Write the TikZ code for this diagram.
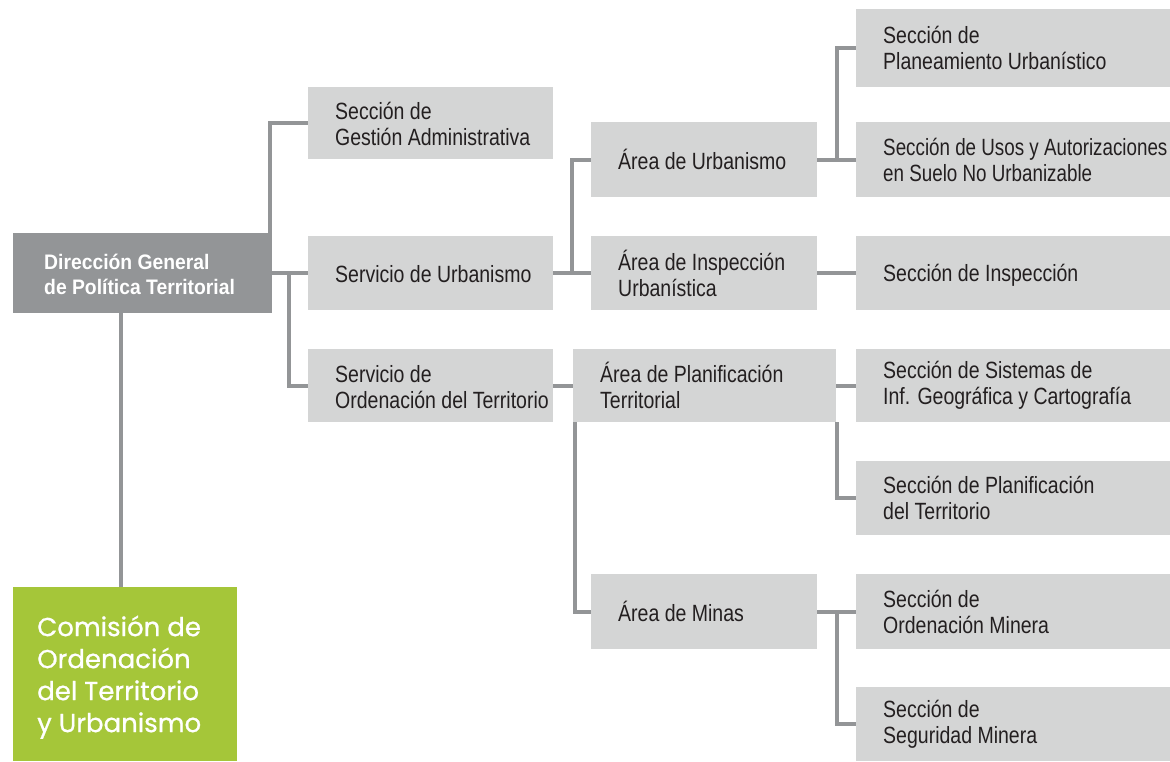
\documentclass[tikz,border=0pt]{standalone}
\usepackage{fontspec}
\setmainfont{Liberation Sans}
\newfontfamily\regf{Liberation Sans}[FakeStretch=0.83]
\newfontfamily\narrf{Liberation Sans}[FakeStretch=0.80]
\newfontfamily\boldf{Liberation Sans}[FakeStretch=0.92]
\newfontfamily\popf{Poppins}[FakeBold=0.8]
\usetikzlibrary{calc}
\definecolor{boxgray}{HTML}{D4D5D5}
\definecolor{darkbox}{HTML}{939597}
\definecolor{linegray}{HTML}{939597}
\definecolor{greenbox}{HTML}{A5C639}
\definecolor{txt}{HTML}{231F20}
\tikzset{
  box/.style={fill=boxgray, inner sep=0pt, anchor=north west, draw=none},
  lbl/.style={anchor=west, align=left, inner sep=0pt, text=txt,
    font=\regf\fontsize{23.5}{26}\selectfont},
  conn/.style={draw=linegray, line width=4pt},
}
\begin{document}
\begin{tikzpicture}[x=1pt,y=-1pt]
\useasboundingbox (0,0) rectangle (1170,761);
% main boxes
\node[box, fill=darkbox, minimum width=259pt, minimum height=80pt] (dg) at (13,233) {};
\node[anchor=west, align=left, inner sep=0pt, text=white, font=\boldf\bfseries\fontsize{21}{25}\selectfont] (dgt) at ([xshift=31pt,yshift=-1pt]dg.west) {Dirección General\\de Política Territorial};
\node[box, fill=greenbox, minimum width=224pt, minimum height=174pt] (co) at (13,587) {};
\node[anchor=west, align=left, inner sep=0pt, text=white, font=\popf\fontsize{26}{32}\selectfont] (cot) at ([xshift=24pt,yshift=-3pt]co.west) {Comisión de\\Ordenación\\del Territorio\\y Urbanismo};
% level 2
\node[box, minimum width=245pt, minimum height=72pt] (ga) at (308,87) {};
\node[lbl] (gat) at ([xshift=27pt,yshift=-1pt]ga.west) {Sección de\\Gestión Administrativa};
\node[box, minimum width=245pt, minimum height=74pt] (sv) at (308,236) {};
\node[lbl] (svt) at ([xshift=27pt,yshift=-1pt]sv.west) {Servicio de Urbanismo};
\node[box, minimum width=245pt, minimum height=73pt] (so) at (308,349) {};
\node[lbl] (sot) at ([xshift=27pt,yshift=-1pt]so.west) {Servicio de\\Ordenación del Territorio};
% level 3
\node[box, minimum width=226pt, minimum height=75pt] (au) at (591,122) {};
\node[lbl] (aut) at ([xshift=27pt]au.west) {Área de Urbanismo};
\node[box, minimum width=226pt, minimum height=74pt] (ai) at (591,236) {};
\node[lbl] (ait) at ([xshift=27pt]ai.west) {Área de Inspección\\Urbanística};
\node[box, minimum width=263pt, minimum height=73pt] (ap) at (573,349) {};
\node[lbl] (apt) at ([xshift=27pt]ap.west) {Área de Planificación\\Territorial};
\node[box, minimum width=226pt, minimum height=75pt] (am) at (591,574) {};
\node[lbl] (amt) at ([xshift=27pt]am.west) {Área de Minas};
% level 4
\node[box, minimum width=314pt, minimum height=78pt] (pl) at (856,9) {};
\node[lbl] (plt) at ([xshift=27pt]pl.west) {Sección de\\Planeamiento Urbanístico};
\node[box, minimum width=314pt, minimum height=75pt] (us) at (856,122) {};
\node[lbl, font=\narrf\fontsize{23.5}{26}\selectfont] (ust) at ([xshift=27pt]us.west) {Sección de Usos y Autorizaciones\\en Suelo No Urbanizable};
\node[box, minimum width=314pt, minimum height=74pt] (si) at (856,236) {};
\node[lbl] (sit) at ([xshift=27pt,yshift=-2pt]si.west) {Sección de Inspección};
\node[box, minimum width=314pt, minimum height=73pt] (ss) at (856,349) {};
\node[lbl] (sst) at ([xshift=27pt]ss.west) {Sección de Sistemas de\\Inf. Geográfica y Cartografía};
\node[box, minimum width=314pt, minimum height=74pt] (sp) at (856,461) {};
\node[lbl] (spt) at ([xshift=27pt]sp.west) {Sección de Planificación\\del Territorio};
\node[box, minimum width=314pt, minimum height=75pt] (om) at (856,574) {};
\node[lbl] (omt) at ([xshift=27pt]om.west) {Sección de\\Ordenación Minera};
\node[box, minimum width=314pt, minimum height=74pt] (sm) at (856,687) {};
\node[lbl] (smt) at ([xshift=27pt]sm.west) {Sección de\\Seguridad Minera};
% connectors
\draw[conn] (dg.east) -- (sv.west);
\draw[conn] ([xshift=-2pt]dg.north east) |- (ga.west);
\draw[conn] ($(dg.east)+(17pt,0)$) |- (so.west);
\draw[conn] ([xshift=-4pt]co.north) -- ([xshift=-4pt]co.north |- dg.south);
\draw[conn] (sv.east) -- (ai.west);
\draw[conn] ($(sv.east)+(19pt,0)$) |- (au.west);
\draw[conn] (au.east) -- (us.west);
\draw[conn] ($(au.east)+(20pt,0)$) |- (pl.west);
\draw[conn] (ai.east) -- (si.west);
\draw[conn] (so.east) -- (ap.west);
\draw[conn] (ap.east) -- (ss.west);
\draw[conn] ([xshift=1pt]ap.south east) |- (sp.west);
\draw[conn] ([xshift=2pt]ap.south west) |- (am.west);
\draw[conn] (am.east) -- (om.west);
\draw[conn] ($(am.east)+(20pt,0)$) |- (sm.west);
\end{tikzpicture}
\end{document}
